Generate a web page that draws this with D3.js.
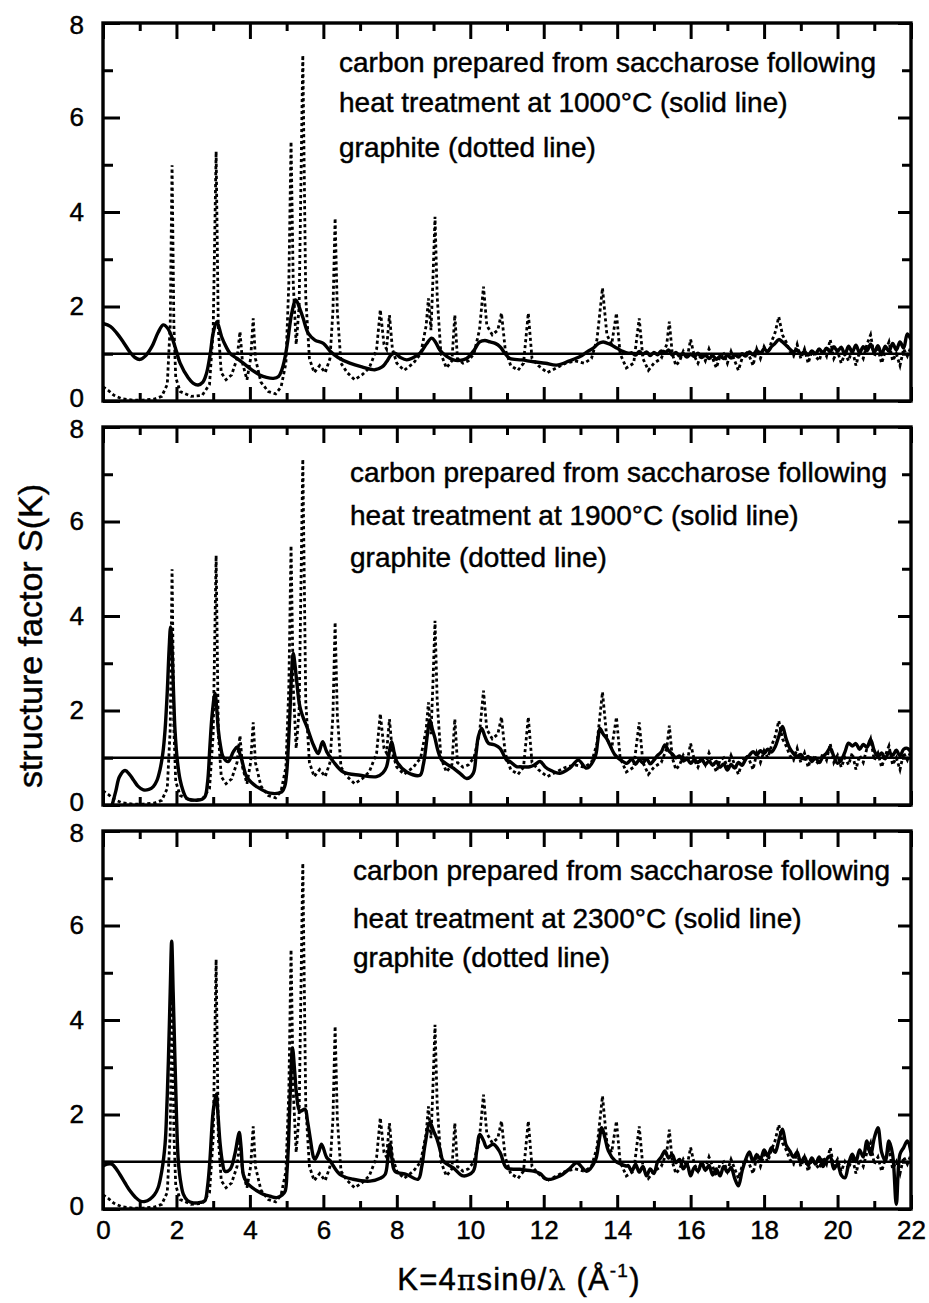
<!DOCTYPE html>
<html><head><meta charset="utf-8">
<script src="https://cdn.jsdelivr.net/npm/d3@7"></script>
<style>
body{margin:0;background:#fff}
svg{display:block}
text{font-family:"Liberation Sans",Arial,sans-serif;fill:#000;stroke:#000;stroke-width:0.45px}
</style>
</head><body>
<svg id="chart" width="929" height="1303"></svg>
<script>
// ---------- DATA ----------
const xMajorTicks = [0,2,4,6,8,10,12,14,16,18,20,22];
const xMinorTicks = [1,3,5,7,9,11,13,15,17,19,21];
const yMajorTicks = [0,2,4,6,8];
const yMinorTicks = [1,3,5,7];
const referenceLevel = 1;

const panelLabels = [
  ["carbon prepared from saccharose following","heat treatment at 1000°C (solid line)","graphite (dotted line)"],
  ["carbon prepared from saccharose following","heat treatment at 1900°C (solid line)","graphite (dotted line)"],
  ["carbon prepared from saccharose following","heat treatment at 2300°C (solid line)","graphite (dotted line)"]
];

// graphite (dotted) – same reference in all panels: [K, S]
const graphiteMain = [[0,0.3],[0.15,0.22],[0.3,0.12],[0.5,0.05],[0.8,0.02],[1.1,0.02],[1.4,0.04],[1.6,0.1],[1.75,0.35],[1.83,1.6],[1.88,4.99],[1.93,1.6],[1.98,0.5],[2.1,0.2],[2.4,0.1],[2.7,0.12],[2.9,0.35],[3.0,1.5],[3.08,5.28],[3.14,1.5],[3.22,0.6],[3.35,0.45],[3.5,0.55],[3.65,0.9],[3.73,1.47],[3.8,0.8],[3.92,0.45],[4.02,0.9],[4.09,1.75],[4.15,0.9],[4.3,0.4],[4.5,0.2],[4.7,0.15],[4.85,0.3],[4.98,0.8],[5.06,2.5],[5.12,5.49],[5.18,2.5],[5.26,1.2],[5.34,2.0],[5.44,7.32],[5.52,2.2],[5.62,0.9],[5.75,0.6],[5.9,0.75],[6.05,0.6],[6.18,0.9],[6.26,1.9],[6.32,3.87],[6.38,1.9],[6.48,0.8],[6.65,0.6],[6.85,0.45],[7.05,0.55],[7.25,0.7],[7.45,1.1],[7.55,1.93],[7.65,1.2],[7.72,1.1],[7.8,1.82],[7.88,1.1],[8.0,0.8],[8.2,0.65],[8.45,0.8],[8.65,1.0],[8.8,1.6],[8.86,2.17],[8.93,1.5],[8.98,2.5],[9.04,3.9],[9.1,2.2],[9.2,1.0],[9.35,0.7],[9.5,0.85],[9.58,1.82],[9.65,0.9],[9.8,0.8],[9.95,0.85],[10.1,1.0],[10.25,1.5],[10.36,2.42],[10.45,1.6],[10.6,1.4],[10.75,1.5],[10.85,1.86],[10.95,1.1],[11.1,0.75],[11.3,0.65],[11.45,0.8],[11.58,1.86],[11.68,0.9],[11.85,0.75],[12.1,0.6],[12.35,0.7],[12.6,0.8],[12.85,0.85],[13.1,0.8],[13.3,0.9],[13.45,1.3],[13.6,2.39],[13.72,1.4],[13.85,1.2],[13.98,1.86],[14.08,1.0],[14.25,0.7],[14.45,0.8],[14.6,1.75],[14.7,0.9],[14.85,0.65],[15.0,0.8],[15.2,0.9],[15.35,1.2],[15.42,1.68]];
const graphiteTail = [[15.5,1.0],[15.6,0.75],[15.7,0.85],[15.8,1.05],[15.9,0.9],[16.0,1.3],[16.1,0.95],[16.2,0.8],[16.3,1.0],[16.4,0.85],[16.5,1.1],[16.6,0.9],[16.7,0.7],[16.8,0.95],[16.9,1.0],[17.0,0.8],[17.1,1.05],[17.2,0.85],[17.3,0.65],[17.4,0.9],[17.5,1.05],[17.6,0.95],[17.7,0.75],[17.8,1.1],[17.9,0.9],[18.0,1.15],[18.1,1.0],[18.2,1.25],[18.3,1.45],[18.4,1.78],[18.5,1.4],[18.6,1.25],[18.7,1.05],[18.8,0.95],[18.9,1.2],[19.0,0.9],[19.1,1.1],[19.2,0.8],[19.3,1.05],[19.4,0.95],[19.5,0.85],[19.6,1.1],[19.7,0.95],[19.8,1.3],[19.9,0.9],[20.0,1.05],[20.1,0.8],[20.2,1.0],[20.3,0.85],[20.4,1.1],[20.5,0.75],[20.6,1.05],[20.7,0.9],[20.8,1.2],[20.9,1.4],[21.0,0.95],[21.1,1.1],[21.2,0.8],[21.3,1.05],[21.4,1.25],[21.5,0.85],[21.6,1.0],[21.7,0.75],[21.8,1.1],[21.9,0.95],[22.0,1.15]];

// carbon 1000 °C (solid)
const carbon1000Main = [[0,1.64],[0.2,1.58],[0.37,1.44],[0.55,1.25],[0.73,1.04],[0.87,0.92],[1.01,0.88],[1.15,0.95],[1.33,1.15],[1.5,1.45],[1.64,1.61],[1.75,1.55],[1.87,1.36],[2.0,1.05],[2.1,0.8],[2.32,0.49],[2.45,0.38],[2.59,0.34],[2.72,0.4],[2.82,0.59],[2.92,1.0],[3.0,1.44],[3.1,1.68],[3.23,1.36],[3.35,1.15],[3.46,1.01],[3.65,0.9],[3.82,0.8],[4.05,0.66],[4.27,0.55],[4.45,0.5],[4.64,0.48],[4.78,0.52],[4.87,0.66],[4.95,0.9],[5.02,1.22],[5.14,1.86],[5.25,2.14],[5.36,1.95],[5.45,1.75],[5.59,1.43],[5.77,1.29],[6.0,1.22],[6.18,1.06],[6.4,0.92],[6.72,0.8],[7.05,0.72],[7.4,0.66],[7.6,0.72],[7.72,0.83],[7.85,0.98],[7.95,1.01],[8.1,0.92],[8.27,0.87],[8.45,0.92],[8.63,1.01],[8.8,1.2],[8.95,1.33],[9.05,1.25],[9.17,1.08],[9.35,0.95],[9.54,0.87],[9.72,0.86],[9.9,0.9],[10.08,1.05],[10.26,1.25],[10.4,1.28],[10.54,1.25],[10.68,1.22],[10.81,1.15],[10.95,1.0],[11.08,0.9],[11.4,0.87],[11.72,0.83],[12.05,0.8],[12.35,0.76],[12.7,0.85],[12.99,0.94],[13.2,1.05],[13.35,1.12],[13.5,1.22],[13.62,1.25],[13.8,1.2],[13.99,1.12],[14.15,1.05],[14.3,1.01]];
const carbon1000Tail = [[14.4,1.02],[14.5,0.97],[14.6,1.05],[14.7,0.99],[14.8,1.04],[14.9,0.96],[15.0,1.03],[15.1,0.98],[15.2,1.06],[15.3,1.01],[15.4,1.08],[15.5,0.97],[15.6,1.03],[15.7,0.95],[15.8,1.0],[15.9,0.93],[16.0,0.99],[16.1,0.94],[16.2,1.01],[16.3,0.92],[16.4,0.97],[16.5,0.9],[16.6,0.96],[16.7,0.88],[16.8,0.95],[16.9,0.9],[17.0,0.97],[17.1,0.91],[17.2,0.98],[17.3,0.93],[17.4,1.0],[17.5,0.95],[17.6,1.04],[17.7,0.98],[17.8,1.07],[17.9,1.01],[18.0,1.1],[18.1,1.05],[18.2,1.15],[18.3,1.22],[18.4,1.3],[18.5,1.25],[18.6,1.18],[18.7,1.1],[18.8,1.04],[18.9,1.08],[19.0,0.99],[19.1,1.05],[19.2,0.97],[19.3,1.06],[19.4,1.0],[19.5,1.1],[19.6,1.02],[19.7,1.12],[19.8,1.04],[19.9,1.15],[20.0,1.05],[20.1,1.14],[20.2,0.98],[20.3,1.16],[20.4,1.04],[20.5,1.18],[20.6,1.02],[20.7,1.15],[20.8,1.06],[20.9,1.2],[21.0,1.03],[21.1,1.17],[21.2,0.98],[21.3,1.16],[21.4,1.05],[21.5,1.22],[21.6,1.08],[21.7,1.25],[21.8,1.12],[21.9,1.42],[22.0,1.3]];

// carbon 1900 °C (solid)
const carbon1900Main = [[0.25,0.0],[0.35,0.3],[0.45,0.6],[0.6,0.73],[0.72,0.65],[0.83,0.53],[0.95,0.4],[1.1,0.32],[1.25,0.33],[1.37,0.39],[1.47,0.52],[1.55,0.74],[1.63,1.1],[1.69,1.59],[1.75,2.4],[1.8,3.3],[1.84,3.77],[1.88,3.3],[1.92,2.4],[1.96,1.59],[2.03,0.9],[2.1,0.53],[2.18,0.3],[2.28,0.14],[2.55,0.1],[2.7,0.12],[2.78,0.18],[2.85,0.5],[2.91,1.23],[2.97,1.9],[3.05,2.36],[3.1,2.0],[3.14,1.59],[3.2,1.25],[3.27,1.02],[3.41,0.92],[3.55,1.13],[3.66,1.23],[3.72,1.1],[3.78,0.95],[3.91,0.6],[4.05,0.47],[4.18,0.39],[4.55,0.25],[4.87,0.28],[4.95,0.4],[5.0,0.67],[5.05,1.3],[5.09,1.95],[5.13,2.7],[5.18,3.21],[5.23,2.95],[5.27,2.65],[5.36,2.08],[5.45,1.85],[5.55,1.66],[5.73,1.27],[5.86,1.09],[5.98,1.34],[6.09,1.13],[6.27,0.92],[6.54,0.7],[7.0,0.63],[7.45,0.6],[7.62,0.68],[7.72,0.81],[7.8,1.15],[7.86,1.34],[7.93,1.1],[8.0,0.92],[8.27,0.7],[8.63,0.63],[8.72,0.85],[8.77,1.09],[8.85,1.6],[8.9,1.8],[8.97,1.6],[9.04,1.41],[9.12,1.15],[9.22,0.95],[9.54,0.78],[9.75,0.65],[9.9,0.56],[10.08,0.67],[10.16,1.1],[10.22,1.45],[10.31,1.62],[10.4,1.45],[10.49,1.31],[10.67,1.27],[10.81,1.2],[10.99,0.95],[11.08,0.92],[11.26,0.81],[11.35,0.81],[11.62,0.81],[11.75,0.85],[11.9,0.92],[12.05,0.8],[12.17,0.74],[12.44,0.67],[12.71,0.78],[12.94,0.95],[13.17,0.78],[13.4,1.02],[13.47,1.35],[13.53,1.62],[13.62,1.5],[13.71,1.41],[13.94,1.06],[14.1,0.95],[14.26,0.88]];
const carbon1900Tail = [[14.3,0.9],[14.4,0.97],[14.5,0.86],[14.6,0.96],[14.7,0.89],[14.8,0.98],[14.9,0.87],[15.0,0.95],[15.1,1.05],[15.2,1.12],[15.3,1.27],[15.4,1.15],[15.5,1.08],[15.6,1.0],[15.7,1.04],[15.8,0.93],[15.9,0.99],[16.0,0.88],[16.1,0.96],[16.2,0.9],[16.3,0.97],[16.4,0.86],[16.5,0.93],[16.6,0.84],[16.7,0.92],[16.8,0.8],[16.9,0.87],[17.0,0.74],[17.1,0.86],[17.2,0.78],[17.3,0.9],[17.4,0.84],[17.5,0.97],[17.6,1.05],[17.7,1.13],[17.8,1.06],[17.9,1.15],[18.0,1.09],[18.1,1.18],[18.2,1.12],[18.3,1.23],[18.4,1.45],[18.5,1.66],[18.6,1.4],[18.7,1.2],[18.8,1.09],[18.9,1.02],[19.0,1.07],[19.1,0.97],[19.2,1.03],[19.3,0.92],[19.4,1.0],[19.5,0.9],[19.6,1.02],[19.7,1.1],[19.8,1.2],[19.9,1.03],[20.0,0.88],[20.1,0.95],[20.2,1.12],[20.3,1.31],[20.4,1.25],[20.5,1.3],[20.6,1.18],[20.7,1.28],[20.8,1.22],[20.9,1.38],[21.0,1.15],[21.1,1.02],[21.2,1.1],[21.3,0.98],[21.4,1.12],[21.5,1.05],[21.6,1.16],[21.7,1.04],[21.8,1.18],[21.9,1.2],[22.0,1.12]];

// carbon 2300 °C (solid)
const carbon2300Main = [[0,0.91],[0.12,0.95],[0.24,0.95],[0.35,0.86],[0.46,0.73],[0.6,0.55],[0.74,0.38],[0.88,0.25],[1.01,0.17],[1.15,0.16],[1.28,0.21],[1.4,0.3],[1.5,0.45],[1.6,0.8],[1.69,1.37],[1.74,2.2],[1.78,3.13],[1.83,4.6],[1.87,5.67],[1.91,4.6],[1.96,3.13],[2.0,2.0],[2.05,1.02],[2.12,0.55],[2.19,0.31],[2.3,0.18],[2.46,0.13],[2.65,0.14],[2.77,0.17],[2.85,0.5],[2.91,1.02],[3.0,2.07],[3.08,2.43],[3.13,2.0],[3.19,1.37],[3.25,1.0],[3.32,0.8],[3.46,0.84],[3.59,1.16],[3.67,1.5],[3.71,1.62],[3.76,1.3],[3.82,0.73],[3.9,0.58],[4.0,0.49],[4.2,0.38],[4.37,0.31],[4.55,0.27],[4.73,0.24],[4.88,0.3],[4.96,0.38],[5.01,0.8],[5.05,1.37],[5.1,2.5],[5.16,3.41],[5.22,2.9],[5.27,2.43],[5.36,2.07],[5.5,2.11],[5.57,1.85],[5.64,1.51],[5.73,1.1],[5.77,1.05],[5.87,1.2],[5.95,1.37],[6.09,1.09],[6.18,1.02],[6.45,0.73],[6.81,0.63],[7.27,0.59],[7.55,0.65],[7.68,0.73],[7.76,1.1],[7.81,1.37],[7.87,1.05],[7.95,0.8],[8.27,0.73],[8.58,0.63],[8.68,0.9],[8.77,1.37],[8.9,1.83],[9.0,1.65],[9.08,1.51],[9.18,1.25],[9.26,1.02],[9.54,0.87],[9.81,0.7],[10.08,0.8],[10.17,1.2],[10.26,1.58],[10.36,1.45],[10.45,1.3],[10.63,1.37],[10.81,1.2],[10.99,0.87],[11.35,0.84],[11.72,0.8],[11.9,0.75],[12.08,0.63],[12.44,0.7],[12.7,0.85],[12.9,0.98],[13.17,0.8],[13.4,1.02],[13.5,1.4],[13.58,1.72],[13.67,1.5],[13.76,1.23],[13.94,1.02],[14.1,0.95],[14.26,0.91]];
const carbon2300Tail = [[14.3,0.92],[14.4,0.8],[14.5,0.95],[14.6,0.78],[14.7,0.9],[14.8,0.7],[14.9,0.85],[15.0,0.75],[15.1,1.0],[15.2,1.1],[15.3,1.23],[15.4,1.08],[15.5,1.15],[15.6,0.98],[15.7,1.05],[15.8,0.85],[15.9,0.95],[16.0,0.7],[16.1,0.88],[16.2,0.8],[16.3,0.98],[16.4,0.82],[16.5,0.92],[16.6,0.72],[16.7,0.85],[16.8,0.7],[16.9,0.9],[17.0,0.78],[17.1,0.88],[17.2,0.65],[17.3,0.49],[17.4,0.8],[17.5,1.05],[17.6,1.21],[17.7,1.0],[17.8,1.15],[17.9,1.05],[18.0,1.25],[18.1,1.12],[18.2,1.3],[18.3,1.2],[18.4,1.45],[18.5,1.69],[18.6,1.35],[18.7,1.23],[18.8,1.1],[18.9,1.2],[19.0,0.98],[19.1,1.1],[19.2,0.92],[19.3,1.08],[19.4,0.95],[19.5,1.1],[19.6,0.9],[19.7,1.05],[19.8,1.12],[19.9,0.85],[20.0,0.95],[20.1,0.72],[20.2,0.66],[20.3,0.95],[20.4,1.16],[20.5,1.0],[20.6,1.25],[20.7,1.1],[20.8,1.44],[20.9,1.15],[21.0,1.5],[21.1,1.72],[21.2,1.2],[21.3,1.02],[21.4,1.44],[21.5,1.15],[21.6,0.1],[21.7,1.16],[21.8,1.3],[21.9,1.44],[22.0,1.2]];

// ---------- LAYOUT ----------
const svg = d3.select("#chart");
const left = 103, right = 911, ph = 378;
const panelTops = [23, 427, 831];
const labelOffsets = [[49,89,134],[55,98,140],[49,97,136]];
const labelX = [339, 350, 353];
const solids = [
  carbon1000Main.concat(carbon1000Tail),
  carbon1900Main.concat(carbon1900Tail),
  carbon2300Main.concat(carbon2300Tail)
];
const graphite = graphiteMain.concat(graphiteTail);

const x = d3.scaleLinear().domain([0,22]).range([left,right]);

panelTops.forEach((top,i) => {
  const y = d3.scaleLinear().domain([0,8]).range([top+ph, top]);
  const g = svg.append("g");
  const clipId = "clip"+i;
  svg.append("clipPath").attr("id",clipId).append("rect")
    .attr("x",left).attr("y",top).attr("width",right-left).attr("height",ph);

  const plot = g.append("g").attr("clip-path",`url(#${clipId})`);

  // graphite dotted
  plot.append("path").datum(graphite)
    .attr("d", d3.line().x(d=>x(d[0])).y(d=>y(d[1])))
    .attr("fill","none").attr("stroke","#000")
    .attr("stroke-width",2.8).attr("stroke-dasharray","3.2,2.8");

  // reference line
  plot.append("line")
    .attr("x1",left).attr("x2",right)
    .attr("y1",y(referenceLevel)).attr("y2",y(referenceLevel))
    .attr("stroke","#000").attr("stroke-width",2.4);

  // solid carbon
  plot.append("path").datum(solids[i])
    .attr("d", d3.line().x(d=>x(d[0])).y(d=>y(d[1])).curve(d3.curveCatmullRom.alpha(0.5)))
    .attr("fill","none").attr("stroke","#000")
    .attr("stroke-width",3.4).attr("stroke-linejoin","round");

  // axes (inward ticks)
  const styleAxis = a => { a.select(".domain").remove(); a.selectAll(".tick line").attr("stroke","#000").attr("stroke-width",3); };
  const fontAxis = a => a.selectAll("text").attr("font-size",26).attr("font-family","Liberation Sans, Arial, sans-serif").attr("fill","#000");
  const bottomMajor = g.append("g").attr("transform",`translate(0,${top+ph})`)
    .call(d3.axisBottom(x).tickValues(xMajorTicks).tickSize(-14).tickPadding(12)
      .tickFormat(i===2 ? d3.format("d") : ""));
  styleAxis(bottomMajor); fontAxis(bottomMajor);
  styleAxis(g.append("g").attr("transform",`translate(0,${top+ph})`)
    .call(d3.axisBottom(x).tickValues(xMinorTicks).tickSize(-8).tickFormat("")));
  styleAxis(g.append("g").attr("transform",`translate(0,${top})`)
    .call(d3.axisTop(x).tickValues(xMajorTicks).tickSize(-16).tickFormat("")));
  styleAxis(g.append("g").attr("transform",`translate(0,${top})`)
    .call(d3.axisTop(x).tickValues(xMinorTicks).tickSize(-8).tickFormat("")));

  const leftMajor = g.append("g").attr("transform",`translate(${left},0)`)
    .call(d3.axisLeft(y).tickValues(yMajorTicks).tickSize(-17).tickPadding(19).tickFormat(d3.format("d")));
  styleAxis(leftMajor); fontAxis(leftMajor);
  // keep the adjacent "0" and "8" labels of stacked panels apart
  leftMajor.selectAll(".tick text").attr("dy", d => d === 0 ? "0.2em" : d === 8 ? "0.42em" : "0.32em");
  styleAxis(g.append("g").attr("transform",`translate(${left},0)`)
    .call(d3.axisLeft(y).tickValues(yMinorTicks).tickSize(-10).tickFormat("")));
  styleAxis(g.append("g").attr("transform",`translate(${right},0)`)
    .call(d3.axisRight(y).tickValues(yMajorTicks).tickSize(-13).tickFormat("")));
  styleAxis(g.append("g").attr("transform",`translate(${right},0)`)
    .call(d3.axisRight(y).tickValues(yMinorTicks).tickSize(-9).tickFormat("")));

  // frame
  g.append("rect").attr("x",left).attr("y",top).attr("width",right-left).attr("height",ph)
    .attr("fill","none").attr("stroke","#000").attr("stroke-width",3.4);

  // annotation
  panelLabels[i].forEach((t,j) => {
    g.append("text").attr("x",labelX[i]).attr("y",top+labelOffsets[i][j])
      .attr("font-size",28).text(t);
  });
});

// axis titles
svg.append("text")
  .attr("transform","translate(42,636) rotate(-90)")
  .attr("text-anchor","middle").attr("font-size",34)
  .text("structure factor S(K)");

const xt = svg.append("text").attr("x",519).attr("y",1290)
  .attr("text-anchor","middle").attr("font-size",31).attr("letter-spacing",1.2);
xt.append("tspan").text("K=4");
xt.append("tspan").attr("font-family","DejaVu Serif, serif").attr("font-size",28).text("π");
xt.append("tspan").text("sin");
xt.append("tspan").attr("font-family","DejaVu Serif, serif").attr("font-size",28).text("θ");
xt.append("tspan").text("/");
xt.append("tspan").attr("font-family","DejaVu Serif, serif").attr("font-size",28).text("λ");
xt.append("tspan").text(" (Å");
xt.append("tspan").attr("font-size",19).attr("dy",-13).text("-1");
xt.append("tspan").attr("dy",13).text(")");
</script>
</body></html>
